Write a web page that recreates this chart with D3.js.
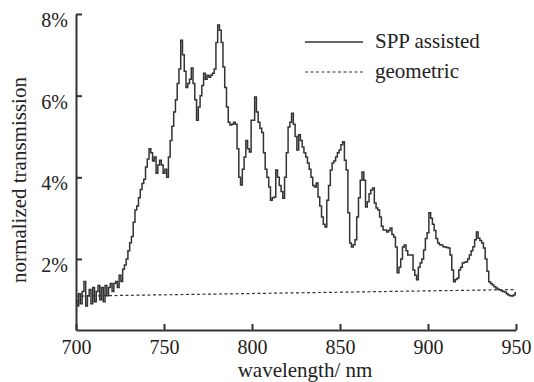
<!DOCTYPE html>
<html>
<head>
<meta charset="utf-8">
<script src="https://cdn.jsdelivr.net/npm/d3@7"></script>
<style>
  body { margin: 0; background: #fff; }
  text { font-family: "Liberation Serif", "DejaVu Serif", serif; fill: #222; }
</style>
</head>
<body>
<div id="chart"></div>
<script>
// wavelength grid, 1 nm steps
const startNm = 700;
// SPP assisted transmission (%), one value per nm from 700 to 950
const sppValues = [
  1.0, 0.85, 1.15, 0.9, 1.2, 1.45, 0.85, 1.1, 1.25, 0.9,
  1.3, 0.95, 1.2, 1.35, 1.0, 1.3, 0.95, 1.35, 1.1, 1.3,
  1.4, 1.2, 1.4, 1.45, 1.3, 1.6, 1.45, 1.75, 1.85, 2.0,
  2.2, 2.4, 2.55, 2.9, 3.2, 3.3, 3.5, 3.7, 3.85, 3.95,
  4.25, 4.45, 4.7, 4.6, 4.4, 4.5, 4.1, 4.3, 4.42, 4.3,
  4.1, 4.2, 4.0, 4.5, 4.9, 5.25, 5.6, 5.9, 6.3, 6.65,
  7.36, 7.0, 6.6, 6.2, 6.3, 6.4, 6.68, 6.3, 5.9, 5.4,
  5.72, 6.0, 6.25, 6.55, 6.4, 6.5, 6.45, 6.5, 6.55, 6.65,
  7.3, 7.73, 7.6, 7.3, 6.7, 6.2, 5.72, 5.35, 5.28, 5.3,
  5.35, 5.3, 4.7, 4.0, 3.81, 4.2, 4.5, 4.9, 4.7, 4.62,
  5.4, 5.4, 5.97, 5.6, 5.35, 5.2, 5.1, 4.6, 4.2, 4.0,
  3.76, 3.44, 3.5, 3.52, 4.18, 4.0, 3.8, 3.65, 3.49, 4.0,
  4.6, 5.23, 5.35, 5.57, 5.3, 5.0, 4.67, 5.04, 4.9, 4.74,
  4.6, 4.5, 4.35, 4.2, 4.0, 3.8, 3.76, 3.86, 3.52, 3.3,
  3.03, 2.85, 2.78, 3.44, 3.8, 4.18, 4.35, 4.4, 4.5, 4.6,
  4.67, 4.8, 4.87, 4.42, 4.18, 3.13, 2.39, 2.29, 2.35, 2.47,
  3.03, 3.5, 3.93, 4.13, 3.93, 3.27, 3.4, 3.6, 3.69, 3.74,
  3.37, 3.25, 3.2, 3.03, 2.8, 2.71, 2.71, 2.66, 2.7, 2.76,
  2.6, 2.54, 2.29, 1.66, 1.8, 2.0, 2.29, 2.34, 2.2, 2.1,
  2.1, 2.1, 1.73, 1.6, 1.49, 1.8, 1.9, 2.0, 2.22, 2.5,
  2.64, 3.13, 3.0, 2.85, 2.7, 2.5, 2.39, 2.35, 2.34, 2.3,
  2.29, 2.28, 2.27, 2.1, 1.73, 1.44, 1.5, 1.53, 1.73, 1.8,
  1.9, 1.92, 1.93, 2.0, 2.1, 2.2, 2.3, 2.47, 2.66, 2.51,
  2.45, 2.39, 2.27, 2.0, 1.7, 1.44, 1.4, 1.36, 1.32, 1.29,
  1.26, 1.24, 1.22, 1.2, 1.19, 1.15, 1.12, 1.1, 1.09, 1.12,
  1.17
];
// geometric transmission, end points
const geoNm = [700, 950];
const geoValues = [1.09, 1.25];

const xTicks = [700, 750, 800, 850, 900, 950];
const yTicks = [2, 4, 6, 8];
const legendLabels = ["SPP assisted", "geometric"];

const width = 534, height = 382;
const margin = { top: 14, right: 18, bottom: 52, left: 76 };

const svg = d3.select("#chart").append("svg")
  .attr("width", width)
  .attr("height", height);

const x = d3.scaleLinear().domain([700, 950]).range([margin.left, width - margin.right]);
const y = d3.scaleLinear().domain([0.26, 8]).range([height - margin.bottom, margin.top]);

const sppData = sppValues.map((v, i) => ({ nm: startNm + i, v: v }));
const geoData = geoNm.map((nm, i) => ({ nm: nm, v: geoValues[i] }));

// geometric dashed line
svg.append("path")
  .datum(geoData)
  .attr("fill", "none")
  .attr("stroke", "#333")
  .attr("stroke-width", 1.2)
  .attr("stroke-dasharray", "3,2.5")
  .attr("d", d3.line().x(d => x(d.nm)).y(d => y(d.v)));

// SPP assisted curve, stepped
svg.append("path")
  .datum(sppData)
  .attr("fill", "none")
  .attr("stroke", "#333")
  .attr("stroke-width", 1.5)
  .attr("d", d3.line().x(d => x(d.nm)).y(d => y(d.v)).curve(d3.curveStep));

// axes (ticks pointing inward)
const xAxis = svg.append("g")
  .attr("transform", `translate(0,${height - margin.bottom})`)
  .call(d3.axisBottom(x).tickValues(xTicks).tickSize(-6).tickSizeOuter(0).tickPadding(12));
const yAxis = svg.append("g")
  .attr("transform", `translate(${margin.left},0)`)
  .call(d3.axisLeft(y).tickValues(yTicks).tickFormat(d => d + "%").tickSize(-6).tickSizeOuter(0).tickPadding(8));

[xAxis, yAxis].forEach(g => {
  g.select(".domain").attr("stroke", "#333").attr("stroke-width", 2);
  g.selectAll(".tick line").attr("stroke", "#333").attr("stroke-width", 2);
  g.selectAll(".tick text")
    .style("font-family", '"Liberation Serif", serif')
    .style("font-size", "20px")
    .attr("fill", "#222");
});
yAxis.selectAll(".tick text").attr("dy", "0.62em").attr("x", -8);
xAxis.selectAll(".tick text").attr("dy", "0.71em").attr("y", 10);

// axis labels
svg.append("text")
  .attr("x", 305)
  .attr("y", 377)
  .attr("text-anchor", "middle")
  .style("font-size", "21px")
  .text("wavelength/ nm");

svg.append("text")
  .attr("transform", "translate(26,180) rotate(-90)")
  .attr("text-anchor", "middle")
  .style("font-size", "21px")
  .text("normalized transmission");

// legend
const legend = svg.append("g");
legendLabels.forEach((label, i) => {
  const ly = 42 + i * 30;
  legend.append("line")
    .attr("x1", 305).attr("x2", 363)
    .attr("y1", ly).attr("y2", ly)
    .attr("stroke", "#333")
    .attr("stroke-width", i === 0 ? 1.5 : 1.2)
    .attr("stroke-dasharray", i === 0 ? null : "3,2.5");
  legend.append("text")
    .attr("x", 375)
    .attr("y", ly + 6)
    .style("font-size", "21px")
    .text(label);
});
</script>
</body>
</html>
